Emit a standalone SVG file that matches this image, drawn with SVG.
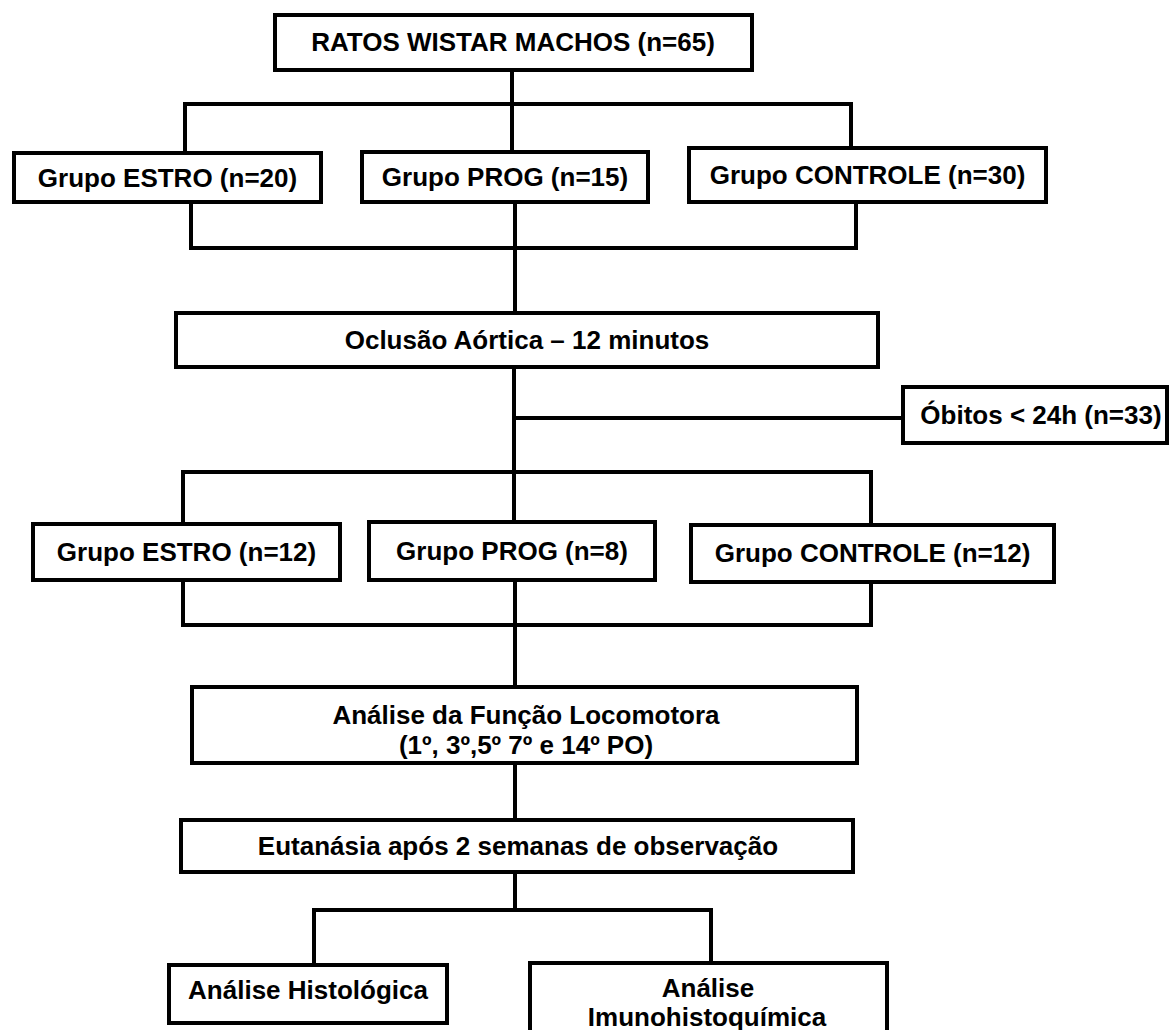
<svg xmlns="http://www.w3.org/2000/svg" width="1170" height="1030" viewBox="0 0 1170 1030">
<style>
.box{fill:#fff;stroke:#000;stroke-width:4}
.t{font-family:"Liberation Sans",Arial,sans-serif;font-weight:bold;font-size:26px;fill:#000;text-anchor:middle}
.c{fill:none;stroke:#000;stroke-width:4;stroke-linecap:square}
</style>
<rect width="1170" height="1030" fill="#fff"/>
<g id="connectors">
<path class="c" d="M512 70V104M185 104H851M185 104V153M512 104V152M851 104V148"/>
<path class="c" d="M191 202V248H856V202M515 202V313"/>
<path class="c" d="M514 367V522M514 418H903M183 472H871M183 472V524M871 472V525"/>
<path class="c" d="M183 580V625H871V582M515 580V687"/>
<path class="c" d="M515 763V820M515 872V910M314 910H711M314 910V965M711 910V963"/>
</g>
<g id="n_ratos"><rect class="box" x="275" y="15" width="477" height="55"/><text class="t" x="513" y="51">RATOS WISTAR MACHOS (n=65)</text></g>
<g id="n_estro20"><rect class="box" x="14" y="153" width="307" height="49"/><text class="t" x="167.5" y="187">Grupo ESTRO (n=20)</text></g>
<g id="n_prog15"><rect class="box" x="362" y="152" width="286" height="50"/><text class="t" x="505" y="186">Grupo PROG (n=15)</text></g>
<g id="n_controle30"><rect class="box" x="689" y="148" width="357" height="54"/><text class="t" x="867.5" y="184">Grupo CONTROLE (n=30)</text></g>
<g id="n_oclusao"><rect class="box" x="176" y="313" width="702" height="54"/><text class="t" x="527" y="349">Oclusão Aórtica – 12 minutos</text></g>
<g id="n_obitos"><rect class="box" x="903" y="387" width="264" height="56"/><text class="t" x="1041" y="424">Óbitos &lt; 24h (n=33)</text></g>
<g id="n_estro12"><rect class="box" x="33" y="524" width="307" height="56"/><text class="t" x="186.5" y="561">Grupo ESTRO (n=12)</text></g>
<g id="n_prog8"><rect class="box" x="369" y="522" width="286" height="58"/><text class="t" x="512" y="560">Grupo PROG (n=8)</text></g>
<g id="n_controle12"><rect class="box" x="691" y="525" width="363" height="57"/><text class="t" x="872.5" y="562">Grupo CONTROLE (n=12)</text></g>
<g id="n_locomotora"><rect class="box" x="192" y="687" width="665" height="76"/><text class="t" x="526" y="724">Análise da Função Locomotora</text><text class="t" x="526" y="754">(1º, 3º,5º 7º e 14º PO)</text></g>
<g id="n_eutanasia"><rect class="box" x="181" y="820" width="672" height="52"/><text class="t" x="518" y="855">Eutanásia após 2 semanas de observação</text></g>
<g id="n_histologica"><rect class="box" x="169" y="965" width="278" height="58"/><text class="t" x="308" y="999">Análise Histológica</text></g>
<g id="n_imuno"><rect class="box" x="530" y="963" width="357" height="90"/><text class="t" x="708" y="997">Análise</text><text class="t" x="707" y="1026">Imunohistoquímica</text></g>
</svg>
